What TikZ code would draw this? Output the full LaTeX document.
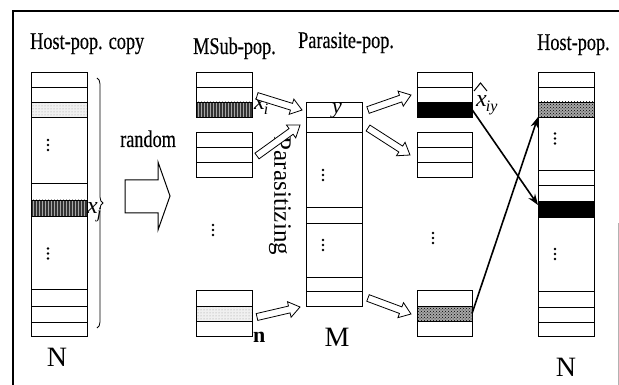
\documentclass[tikz,border=0pt]{standalone}
\usepackage{fontspec}
\setmainfont{Liberation Serif}
\newfontfamily\lab[FakeStretch=0.76,FakeBold=0.4]{Liberation Serif}
\usetikzlibrary{patterns,decorations.pathreplacing,arrows.meta,calc}
\newcommand\rowlines[3]{\foreach \yy in {#3} \draw[box] (#1,\yy) -- (#2,\yy);}
\newcommand\blockarr[2]{\draw[barr] ($(#1)!3.5pt!90:(#2)$) -- ($($(#2)!11pt!(#1)$)!3.5pt!90:(#2)$) -- ($($(#2)!11pt!(#1)$)!8pt!90:(#2)$) -- (#2) -- ($($(#2)!11pt!(#1)$)!8pt!-90:(#2)$) -- ($($(#2)!11pt!(#1)$)!3.5pt!-90:(#2)$) -- ($(#1)!3.5pt!-90:(#2)$) -- cycle;}
\tikzset{
  box/.style={line width=0.9pt, draw=black},
  col/.style={rectangle, draw=black, line width=0.9pt, minimum width=56pt, inner sep=0pt, outer sep=0pt},
  lightc/.style={preaction={fill=black!6}, pattern=dots, pattern color=black!40},
  hatchc/.style={preaction={fill=black!80}, pattern=vertical lines, pattern color=black!35},
  blkc/.style={fill=black},
  xhc/.style={preaction={fill=black!35}, pattern=crosshatch dots, pattern color=black},
  lbl/.style={font=\lab\fontsize{24}{26}\selectfont, inner sep=0pt, anchor=base west},
  bigl/.style={font=\fontsize{28}{30}\selectfont, inner sep=0pt},
  itl/.style={font=\itshape\fontsize{24}{26}\selectfont, inner sep=0pt, anchor=base west},
  barr/.style={draw=black, line width=0.8pt, fill=white, line join=miter},
  thinarr/.style={line width=1.6pt, -{Stealth[length=11pt,width=8pt]}},
  vd/.pic={\foreach \d in {-5,0,5} \fill (0,\d) circle (1.4pt);}
}
\begin{document}
\begin{tikzpicture}[x=1pt,y=-1pt]
\useasboundingbox (0,0) rectangle (619,385);
% frame
\draw[line width=2.5pt] (13,385) -- (13,11) -- (619,11);
\draw[black!30, line width=0.8pt] (618,223) -- (618,385);

% titles
\node[lbl] (t1) at (30,49) {Host-pop. copy};
\node[lbl] (t2) at (193,54) {MSub-pop.};
\node[lbl] (t3) at (298,48) {Parasite-pop.};
\node[lbl] (t4) at (537,50) {Host-pop.};
\node[lbl] (t5) at (120,147) {random};

% Host-pop copy column
\node[col, minimum height=264pt] (hc) at (59,204) {};
\rowlines{31}{87}{87,102,117,183,200,216,289,306,322}
\node[col, lightc, minimum height=15pt] (hcL) at (59,109.5) {};
\node[col, hatchc, minimum height=16pt] (hcx) at (59,208) {};
\pic at (48,145) {vd};
\pic at (48,253.5) {vd};
\draw[line width=0.8pt, decorate, decoration={brace, amplitude=6pt}] (97,78) -- (97,328);
\node[itl] (lxj) at (87,214) {x\kern-1pt\raisebox{-5pt}{\fontsize{16}{16}\selectfont j}};
\node[bigl] (N1) at (57,357) {N};

% random arrow
\draw[line width=1pt, line join=miter] (125,180) -- (158,180) -- (158,162) -- (170,196) -- (158,230) -- (158,213) -- (125,213) -- cycle;

% MSub-pop column
\node[col, minimum height=45pt] (ms1) at (224,94.5) {};
\rowlines{196}{252}{87}
\node[col, hatchc, minimum height=15pt] (msx) at (224,109.5) {};
\node[col, minimum height=45pt] (ms2) at (224,154.5) {};
\rowlines{196}{252}{147,162}
\pic at (213,230) {vd};
\node[col, minimum height=46pt] (ms3) at (224,313) {};
\node[col, lightc, minimum height=15pt] (msn) at (224,313.5) {};
\node[itl] (lxi) at (254,110) {x\kern-1pt\raisebox{-5pt}{\fontsize{16}{16}\selectfont i}};
\node[font=\bfseries\fontsize{22}{24}\selectfont, inner sep=0pt, anchor=base west] (ln) at (253,342) {n};

% Parasite-pop column
\node[col, minimum height=204pt] (pp) at (334,204) {};
\rowlines{306}{362}{117,132,207,223,277,291}
\node[font=\itshape\fontsize{22}{24}\selectfont, inner sep=0pt, anchor=base] (ly) at (337,114) {y};
\pic at (323,175) {vd};
\pic at (323,245) {vd};
\node[bigl] (M) at (337,337) {M};
\node[font=\fontsize{25}{27}\selectfont, inner sep=0pt, rotate=-90] (para) at (280,196) {Parasitizing};

% third column
\node[col, minimum height=45pt, minimum width=55pt] (of1) at (444.5,94.5) {};
\rowlines{417}{472}{87}
\node[col, blkc, minimum height=15pt, minimum width=55pt] (ofx) at (444.5,109.5) {};
\node[col, minimum height=45pt, minimum width=55pt] (of2) at (444.5,154.5) {};
\rowlines{417}{472}{147,162}
\pic at (433,238) {vd};
\node[col, minimum height=46pt, minimum width=55pt] (of3) at (444.5,313) {};
\node[col, xhc, minimum height=15pt, minimum width=55pt] (ofc) at (444.5,313.5) {};
\draw[line width=1pt] (474,91) -- (480.5,83) -- (487,91);
\node[itl] (lxh) at (476,107) {x\kern-1pt\raisebox{-5pt}{\fontsize{16}{16}\selectfont iy}};

% Host-pop column
\node[col, minimum height=264pt] (hp) at (566,204) {};
\rowlines{538}{594}{87,170,185,291,307,322}
\node[col, xhc, minimum height=15pt] (hpc) at (566,109.5) {};
\node[col, blkc, minimum height=16pt] (hpx) at (566,209) {};
\pic at (555,138.5) {vd};
\pic at (555,254) {vd};
\node[bigl] (N2) at (566,367.5) {N};

% block arrows
\coordinate (a1s) at (257,96);  \coordinate (a1e) at (302,110);
\coordinate (a2s) at (257,156); \coordinate (a2e) at (300,125);
\coordinate (a3s) at (257,317); \coordinate (a3e) at (300,307);
\coordinate (a4s) at (368,110); \coordinate (a4e) at (411,95);
\coordinate (a5s) at (368,128); \coordinate (a5e) at (410,155);
\coordinate (a6s) at (368,298); \coordinate (a6e) at (411,314);
\blockarr{a1s}{a1e}
\blockarr{a2s}{a2e}
\blockarr{a3s}{a3e}
\blockarr{a4s}{a4e}
\blockarr{a5s}{a5e}
\blockarr{a6s}{a6e}

% thin arrows
\draw[thinarr] (ofx.east) -- ([yshift=4pt]hpx.west);
\draw[thinarr] (ofc.east) -- (hpc.south west);
\end{tikzpicture}
\end{document}
